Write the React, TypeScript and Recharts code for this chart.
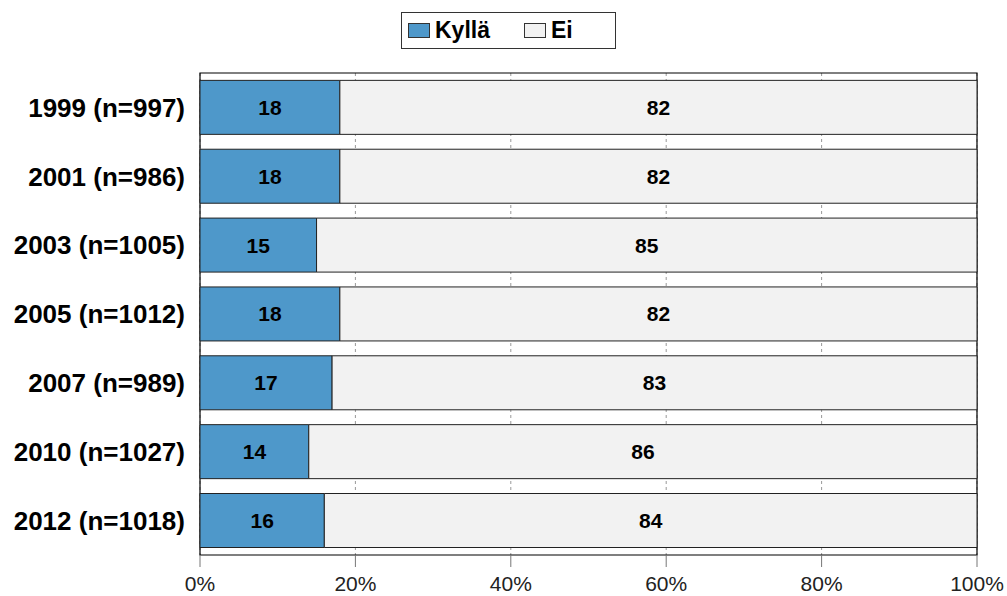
import React from "react";
import {
  BarChart,
  Bar,
  XAxis,
  YAxis,
  CartesianGrid,
  LabelList,
  ReferenceArea,
} from "recharts";

const categories = [
  "1999 (n=997)",
  "2001 (n=986)",
  "2003 (n=1005)",
  "2005 (n=1012)",
  "2007 (n=989)",
  "2010 (n=1027)",
  "2012 (n=1018)",
];
const kylla = [18, 18, 15, 18, 17, 14, 16];
const ei = [82, 82, 85, 82, 83, 86, 84];
const xTicks = [0, 20, 40, 60, 80, 100];

const data = categories.map((name, i) => ({ name, kylla: kylla[i], ei: ei[i] }));

const FONT = "'Liberation Sans', Arial, sans-serif";
const BLUE = "#4E98CA";
const GREY = "#F2F2F2";

// legend is plain html on top of the chart so it doesn't eat plot space
function LegendBox() {
  const item = (color: string, label: string, gap: number) => (
    <div style={{ display: "flex", alignItems: "center", marginRight: gap }}>
      <div
        style={{
          width: 20,
          height: 13,
          background: color,
          border: "1px solid #333",
          marginRight: 5,
        }}
      />
      <span style={{ fontWeight: "bold", fontSize: 23, lineHeight: "23px" }}>{label}</span>
    </div>
  );
  return (
    <div
      style={{
        position: "absolute",
        left: 401,
        top: 12,
        width: 215,
        height: 37,
        display: "flex",
        alignItems: "center",
        border: "1px solid #333",
        paddingLeft: 6,
        boxSizing: "border-box",
        fontFamily: FONT,
        color: "#000",
      }}
    >
      {item(BLUE, "Kyllä", 34)}
      {item(GREY, "Ei", 0)}
    </div>
  );
}

export default function App() {
  return (
    <div style={{ position: "absolute", left: 0, top: 0, width: 1007, height: 596, fontFamily: FONT }}>
      <BarChart
        width={1007}
        height={596}
        data={data}
        layout="vertical"
        margin={{ top: 73, right: 30, bottom: 1, left: 0 }}
        barCategoryGap="10.7%"
      >
        <CartesianGrid
          horizontal={false}
          strokeDasharray="3 3"
          stroke="#999"
        />
        <XAxis
          type="number"
          domain={[0, 100]}
          ticks={xTicks}
          tickFormatter={(v) => `${v}%`}
          axisLine={false}
          tickLine={{ stroke: "#777" }}
          tickSize={12}
          tickMargin={9}
          height={40}
          tick={{ fill: "#222", fontSize: 21, fontFamily: FONT }}
        />
        <YAxis
          type="category"
          dataKey="name"
          width={200}
          axisLine={false}
          tickLine={false}
          tickSize={0}
          tickMargin={15}
          tick={{ fill: "#000", fontSize: 26, fontWeight: "bold", fontFamily: FONT }}
        />
        <ReferenceArea
          x1={0}
          x2={100}
          fill="none"
          stroke="#000"
          strokeWidth={1.2}
          ifOverflow="visible"
        />
        <Bar
          dataKey="kylla"
          stackId="a"
          fill={BLUE}
          stroke="#222"
          strokeWidth={1}
          isAnimationActive={false}
        >
          <LabelList
            dataKey="kylla"
            position="center"
            fill="#000"
            fontSize={21}
            fontWeight="bold"
            fontFamily={FONT}
          />
        </Bar>
        <Bar
          dataKey="ei"
          stackId="a"
          fill={GREY}
          stroke="#222"
          strokeWidth={1}
          isAnimationActive={false}
        >
          <LabelList
            dataKey="ei"
            position="center"
            fill="#000"
            fontSize={21}
            fontWeight="bold"
            fontFamily={FONT}
          />
        </Bar>
      </BarChart>
      <LegendBox />
    </div>
  );
}
